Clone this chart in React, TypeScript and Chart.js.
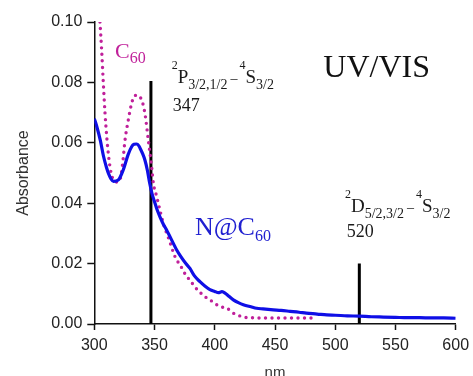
import React, { useEffect, useRef } from "react";
import { Chart, registerables } from "chart.js";

Chart.register(...registerables);

// ---- data ----
const xTickValues = [300, 350, 400, 450, 500, 550, 600];
const yTickValues = [0, 0.02, 0.04, 0.06, 0.08, 0.1];

const nc60Wavelength = [
  300, 302, 305, 307.5, 310, 312, 314, 316, 320, 324, 328, 331, 333, 335, 337, 338, 340, 342, 344, 346,
  348, 350.4, 352, 354.5, 357, 360, 365.6, 368.4, 372, 376, 379.4, 383, 387.7, 392, 396, 400, 403,
  406, 409, 410.5, 415.4, 420, 423.7, 430, 434.8, 440, 448.6, 455, 462.5, 470, 476, 485, 493, 500,
  510, 520, 530, 540, 550, 560, 570, 580, 590, 600,
];
const nc60Absorbance = [
  0.068, 0.0655, 0.0608, 0.0558, 0.052, 0.0496, 0.048, 0.0472, 0.0477, 0.051, 0.056, 0.0587, 0.0595, 0.0596,
  0.059, 0.0582, 0.0565, 0.0543, 0.051, 0.0466, 0.043, 0.04, 0.038, 0.0355, 0.0333, 0.0311, 0.0267,
  0.0245, 0.0222, 0.02, 0.0184, 0.016, 0.014, 0.0125, 0.0114, 0.0108, 0.0104, 0.0107, 0.0101,
  0.0096, 0.008, 0.007, 0.0064, 0.0057, 0.0052, 0.005, 0.0047, 0.0045, 0.0042, 0.0039, 0.0036,
  0.0033, 0.003, 0.0029, 0.0027, 0.0026, 0.0024, 0.0023, 0.0022, 0.0021, 0.0021, 0.002, 0.002,
  0.0019,
];

const c60Wavelength = [
  304.7, 306.1, 307.5, 308.9, 310.8, 313, 315, 317.2, 319, 321.3, 323.5, 325.5, 328.2, 331, 333,
  335.2, 337, 339.3, 342, 344.8, 347.6, 349, 351.8, 354.5, 357.3, 362, 367, 372, 376.7, 379.4, 383,
  387.7, 392, 396, 400, 404.3, 407, 410, 412.5, 415.4, 420, 423.7, 430, 440, 450, 460, 470, 482,
];
const c60Absorbance = [
  0.1, 0.0907, 0.0797, 0.0698, 0.0598, 0.0521, 0.0485, 0.0472, 0.047, 0.0477, 0.053, 0.0609,
  0.0675, 0.0731, 0.0752, 0.0758, 0.0755, 0.0742, 0.0698, 0.061, 0.052, 0.0467, 0.0422, 0.0377,
  0.0333, 0.028, 0.0223, 0.019, 0.0157, 0.0146, 0.0125, 0.0105, 0.009, 0.008, 0.0068, 0.0058,
  0.0055, 0.0053, 0.0045, 0.0036, 0.0028, 0.0023, 0.0021, 0.002, 0.002, 0.002, 0.002, 0.002,
];

const transitionWavelength = [347, 520];
const transitionHeight = [0.0805, 0.02];

// ---- styles ----
const BLUE = "#0f0fe6";
const MAGENTA = "#c0209a";
const SERIF = '"Liberation Serif", "Times New Roman", serif';
const SANS = '"Liberation Sans", Arial, Helvetica, sans-serif';

type Part = { t: string; size: number; dy?: number; dx?: number };
type Note = { x: number; y: number; color: string; parts: Part[] };

const notes: Note[] = [
  { x: 317.2, y: 0.0881, color: MAGENTA, parts: [{ t: "C", size: 22 }, { t: "60", size: 16, dy: 5 }] },
  { x: 490.1, y: 0.0817, color: "#111", parts: [{ t: "UV/VIS", size: 32 }] },
  {
    x: 364.2,
    y: 0.0797,
    color: "#1a1a1a",
    parts: [
      { t: "2", size: 12, dy: -14 },
      { t: "P", size: 19 },
      { t: "3/2,1/2", size: 14, dy: 6 },
      { t: "\u2013", size: 14, dx: 3 },
      { t: "4", size: 12, dy: -14, dx: 2 },
      { t: "S", size: 19 },
      { t: "3/2", size: 14, dy: 6 },
    ],
  },
  { x: 365.1, y: 0.0705, color: "#1a1a1a", parts: [{ t: "347", size: 18 }] },
  { x: 383.5, y: 0.0295, color: "#2020d0", parts: [{ t: "N@C", size: 26 }, { t: "60", size: 16, dy: 6 }] },
  {
    x: 508.1,
    y: 0.0372,
    color: "#1a1a1a",
    parts: [
      { t: "2", size: 12, dy: -14 },
      { t: "D", size: 19 },
      { t: "5/2,3/2", size: 14, dy: 6 },
      { t: "\u2013", size: 14, dx: 3 },
      { t: "4", size: 12, dy: -14, dx: 2 },
      { t: "S", size: 19 },
      { t: "3/2", size: 14, dy: 6 },
    ],
  },
  { x: 509.5, y: 0.0288, color: "#1a1a1a", parts: [{ t: "520", size: 18 }] },
];

const notePlugin = {
  id: "notes",
  afterDraw(chart: any) {
    const { ctx, scales } = chart;
    ctx.save();
    ctx.textAlign = "left";
    ctx.textBaseline = "alphabetic";
    for (const n of notes) {
      let cx = scales.x.getPixelForValue(n.x);
      const cy = scales.y.getPixelForValue(n.y);
      ctx.fillStyle = n.color;
      for (const p of n.parts) {
        ctx.font = `${p.size}px ${SERIF}`;
        cx += p.dx || 0;
        ctx.fillText(p.t, cx, cy + (p.dy || 0));
        cx += ctx.measureText(p.t).width;
      }
    }
    ctx.restore();
  },
};

const zeroPad = (s: any) => {
  s.paddingLeft = 0;
  s.paddingRight = 0;
  s.paddingTop = 0;
  s.paddingBottom = 0;
};

export default function App() {
  const ref = useRef<HTMLCanvasElement | null>(null);

  useEffect(() => {
    document.body.style.margin = "0";
    const canvas = ref.current;
    if (!canvas) return;

    const toPts = (xs: number[], ys: number[]) => xs.map((x, i) => ({ x, y: ys[i] }));

    const datasets: any[] = [
      {
        label: "N@C60",
        data: toPts(nc60Wavelength, nc60Absorbance),
        borderColor: BLUE,
        borderWidth: 3.2,
        pointRadius: 0,
        cubicInterpolationMode: "monotone",
        fill: false,
      },
      {
        label: "C60",
        data: toPts(c60Wavelength, c60Absorbance),
        borderColor: MAGENTA,
        borderWidth: 3.4,
        borderDash: [0, 6.5],
        borderCapStyle: "round",
        pointRadius: 0,
        cubicInterpolationMode: "monotone",
        fill: false,
      },
      ...transitionWavelength.map((w, i) => ({
        label: "line" + w,
        data: [
          { x: w, y: 0 },
          { x: w, y: transitionHeight[i] },
        ],
        borderColor: "#000",
        borderWidth: 3,
        pointRadius: 0,
        fill: false,
      })),
    ];

    const chart = new Chart(canvas, {
      type: "line",
      data: { datasets },
      options: {
        animation: false,
        responsive: false,
        maintainAspectRatio: false,
        devicePixelRatio: 1,
        layout: { padding: { top: 22, right: 17.3, bottom: 0, left: 0 } },
        plugins: { legend: { display: false }, tooltip: { enabled: false } },
        scales: {
          x: {
            type: "linear",
            min: 300,
            max: 600,
            afterBuildTicks: (s: any) => {
              s.ticks = xTickValues.map((v) => ({ value: v }));
            },
            afterFit: (s: any) => {
              s.height = 52;
              zeroPad(s);
            },
            grid: {
              display: true,
              drawOnChartArea: false,
              drawTicks: true,
              tickLength: 6,
              tickWidth: 1.5,
              tickColor: "#111",
            },
            border: { display: true, color: "#111", width: 1.5 },
            ticks: {
              color: "#222",
              font: { family: SANS, size: 16 },
              padding: 6,
              maxRotation: 0,
              callback: (v: any) => String(v),
            },
            title: {
              display: true,
              text: "nm",
              color: "#333",
              font: { family: SANS, size: 15 },
              padding: { top: 0, bottom: -6 },
            },
          },
          y: {
            type: "linear",
            min: 0,
            max: 0.1,
            afterBuildTicks: (s: any) => {
              s.ticks = yTickValues.map((v) => ({ value: v }));
            },
            afterFit: (s: any) => {
              s.width = 94.3;
              zeroPad(s);
            },
            grid: {
              display: true,
              drawOnChartArea: false,
              drawTicks: true,
              tickLength: 7,
              tickWidth: 1.5,
              tickColor: "#111",
            },
            border: { display: true, color: "#111", width: 1.5 },
            ticks: {
              color: "#222",
              font: { family: SANS, size: 16 },
              padding: 5,
              callback: (v: any) => Number(v).toFixed(2),
            },
            title: {
              display: true,
              text: "Absorbance",
              color: "#333",
              font: { family: SANS, size: 16 },
              padding: { top: 14, bottom: 0 },
            },
          },
        },
      },
      plugins: [notePlugin],
    });

    return () => chart.destroy();
  }, []);

  return <canvas ref={ref} width={473} height={376} style={{ display: "block" }} />;
}
